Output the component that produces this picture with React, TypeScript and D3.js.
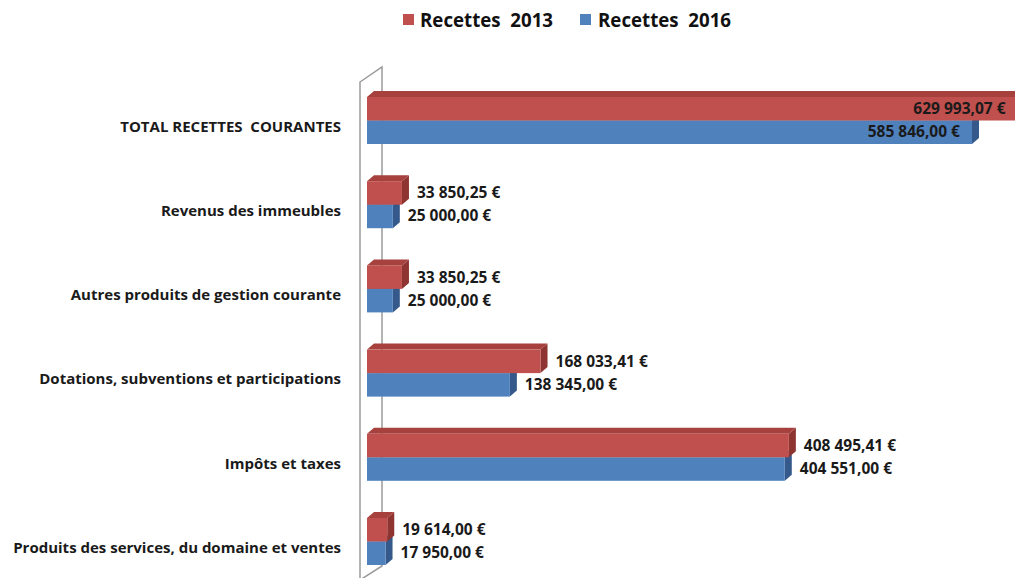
import React from "react";
import * as d3 from "d3";

const categories = [
  "TOTAL RECETTES  COURANTES",
  "Revenus des immeubles",
  "Autres produits de gestion courante",
  "Dotations, subventions et participations",
  "Impôts et taxes",
  "Produits des services, du domaine et ventes",
];
const recettes2013 = [629993.07, 33850.25, 33850.25, 168033.41, 408495.41, 19614.0];
const recettes2016 = [585846.0, 25000.0, 25000.0, 138345.0, 404551.0, 17950.0];
const seriesNames = ["Recettes  2013", "Recettes  2016"];

const W = 1015;
const H = 578;
const FONT = "'Open Sans', Lato, sans-serif";
const DX = 7;
const DY = 6;
const BAR_H = 23.5;

const colors = [
  { front: "#C0504D", top: "#A6413E", side: "#8E3431" },
  { front: "#4F81BD", top: "#3F6C9F", side: "#35598A" },
];

function fmt(v: number) {
  const parts = v.toFixed(2).split(".");
  const int = parts[0].replace(/\B(?=(\d{3})+(?!\d))/g, " ");
  return `${int},${parts[1]} €`;
}

export default function App() {
  const x = d3.scaleLinear().domain([0, 585846]).range([367, 972]);
  const y = d3
    .scalePoint<string>()
    .domain(categories)
    .range([120.5, 541.5]);

  const bar = (v: number, yTop: number, c: typeof colors[0], key: string) => {
    const x0 = x(0);
    const x1 = x(v);
    const yB = yTop + BAR_H;
    return (
      <g key={key}>
        <polygon
          points={`${x1},${yTop} ${x1 + DX},${yTop - DY} ${x1 + DX},${yB - DY} ${x1},${yB}`}
          fill={c.side}
        />
        <polygon
          points={`${x0},${yTop} ${x0 + DX},${yTop - DY} ${x1 + DX},${yTop - DY} ${x1},${yTop}`}
          fill={c.top}
        />
        <rect x={x0} y={yTop} width={x1 - x0} height={BAR_H} fill={c.front} />
      </g>
    );
  };

  const label = (v: number, yc: number, key: string) => {
    const x1 = x(v);
    const txt = fmt(v);
    const approxW = txt.length * 8.2;
    const outside = x1 + DX + 8 + approxW <= W;
    return (
      <text
        key={key}
        x={outside ? x1 + DX + 8 : Math.min(x1 - 12, 1013)}
        y={yc}
        dy="0.35em"
        textAnchor={outside ? "start" : "end"}
        fontFamily={FONT}
        fontWeight={700}
        fontSize={15.5}
        fill="#1a1a1a"
      >
        {txt}
      </text>
    );
  };

  return (
    <svg
      width={W}
      height={H}
      style={{ position: "absolute", left: 0, top: 0, background: "#fff" }}
    >
      {/* wall */}
      <polygon
        points="360,82 382,67 382,566 360,580"
        fill="none"
        stroke="#9a9a9a"
        strokeWidth={1.5}
      />
      {/* legend */}
      <g fontFamily={FONT} fontWeight={700} fontSize={18.7} fill="#111">
        <rect x={403} y={14} width={11} height={11} fill={colors[0].front} />
        <text x={420} y={20} dy="0.35em" xmlSpace="preserve">
          {seriesNames[0]}
        </text>
        <rect x={580} y={14} width={11} height={11} fill={colors[1].front} />
        <text x={598} y={20} dy="0.35em" xmlSpace="preserve">
          {seriesNames[1]}
        </text>
      </g>
      {/* category labels */}
      {categories.map((c) => (
        <text
          key={c}
          x={341}
          y={(y(c) as number) + 6}
          dy="0.35em"
          textAnchor="end"
          fontFamily={FONT}
          fontWeight={700}
          fontSize={15}
          fill="#1a1a1a"
          xmlSpace="preserve"
        >
          {c}
        </text>
      ))}
      {/* bars: blue first then red on top */}
      {categories.map((c, i) => {
        const yc = y(c) as number;
        return (
          <g key={c}>
            {bar(recettes2016[i], yc, colors[1], "b")}
            {bar(recettes2013[i], yc - BAR_H, colors[0], "r")}
          </g>
        );
      })}
      {categories.map((c, i) => {
        const yc = y(c) as number;
        return (
          <g key={"l" + c}>
            {label(recettes2013[i], yc - BAR_H / 2, "r")}
            {label(recettes2016[i], yc + BAR_H / 2 - 0.5, "b")}
          </g>
        );
      })}
    </svg>
  );
}
